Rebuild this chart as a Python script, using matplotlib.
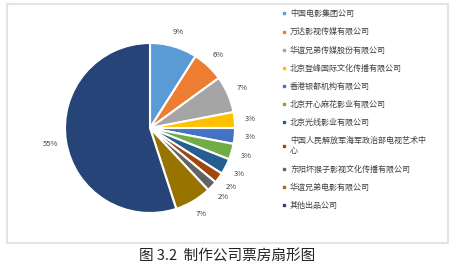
import matplotlib
matplotlib.use("Agg")
import matplotlib.pyplot as plt
from matplotlib.lines import Line2D
from matplotlib.patches import Rectangle

plt.rcParams['font.family'] = ['Noto Sans CJK SC', 'DejaVu Sans']

companies = ['中国电影集团公司', '万达影视传媒有限公司', '华谊兄弟传媒股份有限公司',
             '北京登峰国际文化传播有限公司', '香港银都机构有限公司', '北京开心麻花影业有限公司',
             '北京光线影业有限公司', '中国人民解放军海军政治部电视艺术中\n心',
             '东阳坏猴子影视文化传播有限公司', '华谊兄弟电影有限公司', '其他出品公司']
shares = [9, 6, 7, 3, 3, 3, 3, 2, 2, 7, 55]
colors = ['#5B9BD5', '#ED7D31', '#A5A5A5', '#FFC000', '#4472C4', '#70AD47',
          '#255E91', '#9E480E', '#636363', '#997300', '#264478']
caption = '图 3.2  制作公司票房扇形图'

W, H = 454, 273
fig = plt.figure(figsize=(W / 100, H / 100), dpi=100)

# light frame around the chart area
fig.patches.append(Rectangle((7 / W, 1 - 243 / H), 441 / W, 239 / H, transform=fig.transFigure,
                             fill=False, edgecolor='#e3e3e3', linewidth=1.5))

cx, cy, r = 150, 128, 85
ax = fig.add_axes([(cx - r) / W, (H - cy - r) / H, 2 * r / W, 2 * r / H])
wedges, texts, autotexts = ax.pie(shares, colors=colors, startangle=90, counterclock=False,
                                  autopct='%.0f%%', pctdistance=1.18,
                                  wedgeprops=dict(edgecolor='white', linewidth=1.5))
for t in autotexts:
    t.set_fontsize(5.5)
    t.set_color('#404040')
ax.set_xlim(-1, 1)
ax.set_ylim(-1, 1)
ax.set_aspect('equal')

handles = [Line2D([], [], marker='s', linestyle='', color=c, markersize=2) for c in colors]
leg = fig.legend(handles, companies, loc='upper left', bbox_to_anchor=(274 / W, 1 - 2 / H),
                 frameon=False, fontsize=5.8, handlelength=0.6, handletextpad=0.5,
                 labelspacing=1.13, labelcolor='#404040')

fig.text(0.5, 1 - 257 / H, caption, ha='center', va='center', fontsize=10.5, color='#222222')

fig.savefig('out.png', dpi=100)
